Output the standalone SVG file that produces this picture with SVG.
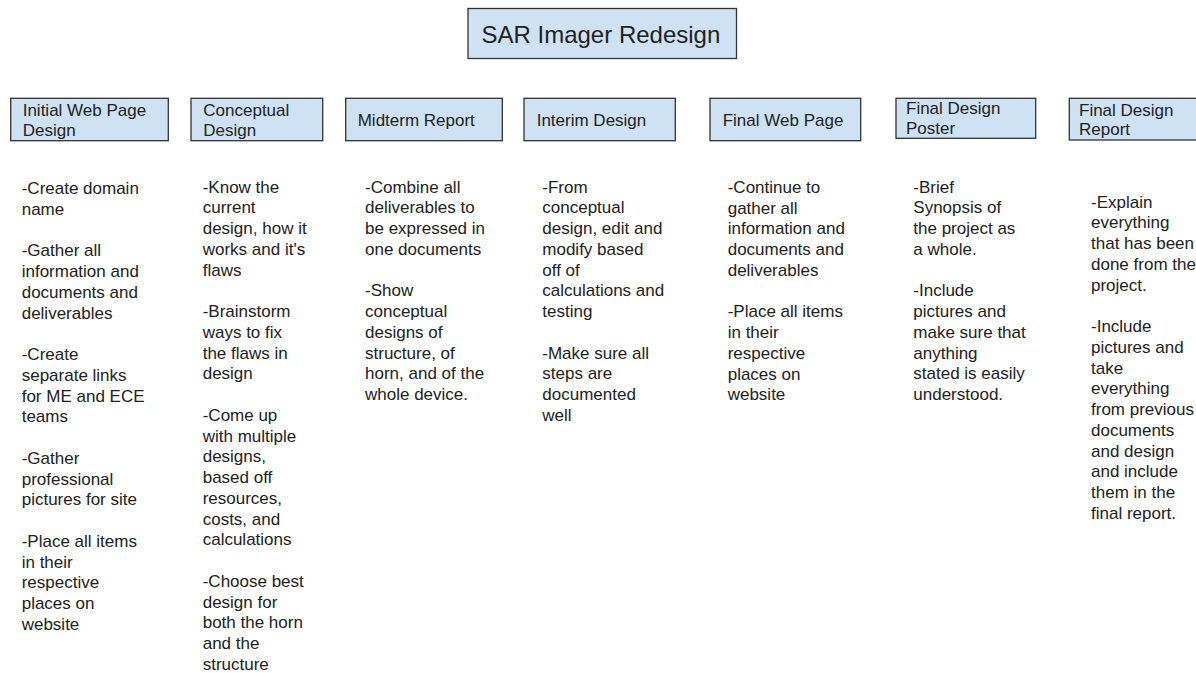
<svg xmlns="http://www.w3.org/2000/svg" width="1196" height="673" viewBox="0 0 1196 673">
<style>
.box{fill:#cfe2f3;stroke:#333333;stroke-width:1.3}
.hd{font-family:"Liberation Sans",Arial,sans-serif;font-size:17px;fill:#222222}
.tt{font-family:"Liberation Sans",Arial,sans-serif;font-size:24px;fill:#222222}
.bd{font-family:"Liberation Sans",Arial,sans-serif;font-size:17px;fill:#222222}
</style>
<rect width="1196" height="673" fill="#ffffff"/>
<g id="title">
<rect class="box" x="468" y="8.5" width="268.5" height="50"/>
<text class="tt" x="481.5" y="42.5">SAR Imager Redesign</text>
</g>
<g id="connectors"></g>
<g id="n1">
<rect class="box" x="10.7" y="98.3" width="157.6" height="42.4"/>
<text class="hd" x="22.7" y="116">Initial Web Page<tspan x="22.7" dy="20">Design</tspan></text>
<text class="bd" x="21.7" y="194">-Create domain<tspan x="21.7" dy="20.75">name</tspan><tspan x="21.7" dy="41.5">-Gather all</tspan><tspan x="21.7" dy="20.75">information and</tspan><tspan x="21.7" dy="20.75">documents and</tspan><tspan x="21.7" dy="20.75">deliverables</tspan><tspan x="21.7" dy="41.5">-Create</tspan><tspan x="21.7" dy="20.75">separate links</tspan><tspan x="21.7" dy="20.75">for ME and ECE</tspan><tspan x="21.7" dy="20.75">teams</tspan><tspan x="21.7" dy="41.5">-Gather</tspan><tspan x="21.7" dy="20.75">professional</tspan><tspan x="21.7" dy="20.75">pictures for site</tspan><tspan x="21.7" dy="41.5">-Place all items</tspan><tspan x="21.7" dy="20.75">in their</tspan><tspan x="21.7" dy="20.75">respective</tspan><tspan x="21.7" dy="20.75">places on</tspan><tspan x="21.7" dy="20.75">website</tspan></text>
</g>
<g id="n2">
<rect class="box" x="191" y="98.3" width="131.7" height="42.4"/>
<text class="hd" x="203.3" y="115.5">Conceptual<tspan x="203.3" dy="20">Design</tspan></text>
<text class="bd" x="202.7" y="192.5">-Know the<tspan x="202.7" dy="20.75">current</tspan><tspan x="202.7" dy="20.75">design, how it</tspan><tspan x="202.7" dy="20.75">works and it's</tspan><tspan x="202.7" dy="20.75">flaws</tspan><tspan x="202.7" dy="41.5">-Brainstorm</tspan><tspan x="202.7" dy="20.75">ways to fix</tspan><tspan x="202.7" dy="20.75">the flaws in</tspan><tspan x="202.7" dy="20.75">design</tspan><tspan x="202.7" dy="41.5">-Come up</tspan><tspan x="202.7" dy="20.75">with multiple</tspan><tspan x="202.7" dy="20.75">designs,</tspan><tspan x="202.7" dy="20.75">based off</tspan><tspan x="202.7" dy="20.75">resources,</tspan><tspan x="202.7" dy="20.75">costs, and</tspan><tspan x="202.7" dy="20.75">calculations</tspan><tspan x="202.7" dy="41.5">-Choose best</tspan><tspan x="202.7" dy="20.75">design for</tspan><tspan x="202.7" dy="20.75">both the horn</tspan><tspan x="202.7" dy="20.75">and the</tspan><tspan x="202.7" dy="20.75">structure</tspan></text>
</g>
<g id="n3">
<rect class="box" x="345.7" y="98.3" width="156.6" height="42.4"/>
<text class="hd" x="357.7" y="125.7">Midterm Report</text>
<text class="bd" x="365" y="192.5">-Combine all<tspan x="365" dy="20.75">deliverables to</tspan><tspan x="365" dy="20.75">be expressed in</tspan><tspan x="365" dy="20.75">one documents</tspan><tspan x="365" dy="41.5">-Show</tspan><tspan x="365" dy="20.75">conceptual</tspan><tspan x="365" dy="20.75">designs of</tspan><tspan x="365" dy="20.75">structure, of</tspan><tspan x="365" dy="20.75">horn, and of the</tspan><tspan x="365" dy="20.75">whole device.</tspan></text>
</g>
<g id="n4">
<rect class="box" x="524" y="98.3" width="151.3" height="42.4"/>
<text class="hd" x="536.7" y="125.7">Interim Design</text>
<text class="bd" x="542.3" y="192.5">-From<tspan x="542.3" dy="20.75">conceptual</tspan><tspan x="542.3" dy="20.75">design, edit and</tspan><tspan x="542.3" dy="20.75">modify based</tspan><tspan x="542.3" dy="20.75">off of</tspan><tspan x="542.3" dy="20.75">calculations and</tspan><tspan x="542.3" dy="20.75">testing</tspan><tspan x="542.3" dy="41.5">-Make sure all</tspan><tspan x="542.3" dy="20.75">steps are</tspan><tspan x="542.3" dy="20.75">documented</tspan><tspan x="542.3" dy="20.75">well</tspan></text>
</g>
<g id="n5">
<rect class="box" x="710" y="98.3" width="150.7" height="42.4"/>
<text class="hd" x="722.7" y="125.7">Final Web Page</text>
<text class="bd" x="727.7" y="192.8">-Continue to<tspan x="727.7" dy="20.75">gather all</tspan><tspan x="727.7" dy="20.75">information and</tspan><tspan x="727.7" dy="20.75">documents and</tspan><tspan x="727.7" dy="20.75">deliverables</tspan><tspan x="727.7" dy="41.5">-Place all items</tspan><tspan x="727.7" dy="20.75">in their</tspan><tspan x="727.7" dy="20.75">respective</tspan><tspan x="727.7" dy="20.75">places on</tspan><tspan x="727.7" dy="20.75">website</tspan></text>
</g>
<g id="n6">
<rect class="box" x="896" y="98.3" width="139.7" height="40"/>
<text class="hd" x="906" y="113.5">Final Design<tspan x="906" dy="20.5">Poster</tspan></text>
<text class="bd" x="913.3" y="192.5">-Brief<tspan x="913.3" dy="20.75">Synopsis of</tspan><tspan x="913.3" dy="20.75">the project as</tspan><tspan x="913.3" dy="20.75">a whole.</tspan><tspan x="913.3" dy="41.5">-Include</tspan><tspan x="913.3" dy="20.75">pictures and</tspan><tspan x="913.3" dy="20.75">make sure that</tspan><tspan x="913.3" dy="20.75">anything</tspan><tspan x="913.3" dy="20.75">stated is easily</tspan><tspan x="913.3" dy="20.75">understood.</tspan></text>
</g>
<g id="n7">
<rect class="box" x="1069.3" y="98.3" width="140" height="41.7"/>
<text class="hd" x="1079" y="115.7">Final Design<tspan x="1079" dy="19.5">Report</tspan></text>
<text class="bd" x="1091" y="207.5">-Explain<tspan x="1091" dy="20.75">everything</tspan><tspan x="1091" dy="20.75">that has been</tspan><tspan x="1091" dy="20.75">done from the</tspan><tspan x="1091" dy="20.75">project.</tspan><tspan x="1091" dy="41.5">-Include</tspan><tspan x="1091" dy="20.75">pictures and</tspan><tspan x="1091" dy="20.75">take</tspan><tspan x="1091" dy="20.75">everything</tspan><tspan x="1091" dy="20.75">from previous</tspan><tspan x="1091" dy="20.75">documents</tspan><tspan x="1091" dy="20.75">and design</tspan><tspan x="1091" dy="20.75">and include</tspan><tspan x="1091" dy="20.75">them in the</tspan><tspan x="1091" dy="20.75">final report.</tspan></text>
</g>
</svg>
